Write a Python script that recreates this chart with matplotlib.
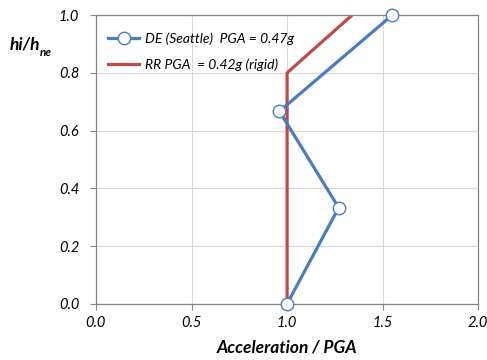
import matplotlib.pyplot as plt
from matplotlib.ticker import FormatStrFormatter

# DE (Seattle) profile
de_acc = [1.0, 1.27, 0.96, 1.55]
de_h = [0.0, 0.333, 0.667, 1.0]
# RR rigid profile
rr_acc = [1.0, 1.0, 1.34]
rr_h = [0.0, 0.8, 1.0]

blue = '#4A7EBB'
red = '#BE4B48'

plt.rcParams['font.family'] = ['Lato', 'DejaVu Sans']

fig = plt.figure(figsize=(4.87, 3.6), dpi=100)
ax = fig.add_axes([0.197, 0.156, 0.785, 0.802])

ax.plot(de_acc, de_h, color=blue, lw=2.3, marker='o', ms=9, mfc='white',
        mec=blue, mew=1.0, label='DE (Seattle)  PGA = 0.47g', zorder=3, clip_on=False)
ax.plot(rr_acc, rr_h, color=red, lw=2.3, label='RR PGA  = 0.42g (rigid)', zorder=2)

ax.set_xlim(0, 2)
ax.set_ylim(0, 1)
ax.set_xticks([0, 0.5, 1.0, 1.5, 2.0])
ax.set_yticks([0, 0.2, 0.4, 0.6, 0.8, 1.0])
ax.xaxis.set_major_formatter(FormatStrFormatter('%.1f'))
ax.yaxis.set_major_formatter(FormatStrFormatter('%.1f'))
ax.grid(True, color='#D9D9D9', lw=0.8)
ax.set_axisbelow(True)
for s in ax.spines.values():
    s.set_color('#868686')
    s.set_linewidth(0.9)
ax.tick_params(axis='both', labelsize=10.5, color='#868686', length=4, width=0.8)
ax.tick_params(axis='x', pad=5, direction='out')
ax.tick_params(axis='y', pad=8, direction='out')
for lab in ax.get_xticklabels() + ax.get_yticklabels():
    lab.set_fontstyle('italic')

ax.set_xlabel('Acceleration / PGA', fontsize=12.5, fontweight='bold', fontstyle='italic')
ax.xaxis.set_label_coords(0.5, -0.152)
ax.xaxis.label.set_va('center')

# y label written horizontally at the top left, with subscript "ne"
t = fig.text(0.02, 0.875, 'hi/h', fontsize=12.5, fontweight='bold',
             fontstyle='italic', ha='left', va='center')
ax.annotate('ne', xy=(1.0, 0.05), xycoords=t, fontsize=8.5, fontweight='bold',
            fontstyle='italic', ha='left', va='center', annotation_clip=False)

leg = ax.legend(loc='upper left', bbox_to_anchor=(0.0, 0.985), frameon=False,
                prop={'style': 'italic', 'size': 10}, handlelength=2.2,
                handletextpad=0.4, labelspacing=1.0)

fig.savefig('out.png', dpi=100)
